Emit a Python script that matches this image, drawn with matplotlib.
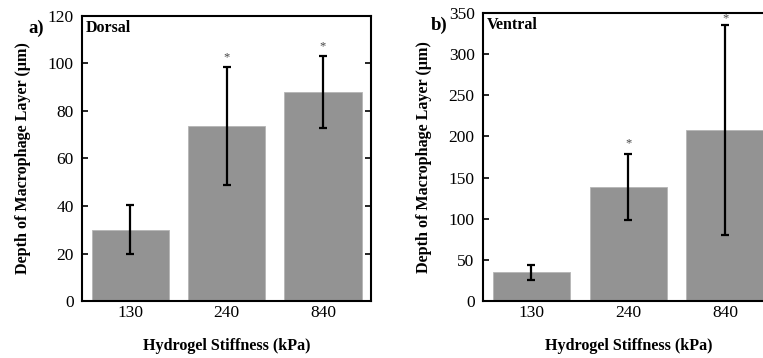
import numpy as np
import matplotlib.pyplot as plt

plt.rcParams['font.family'] = ['Liberation Serif', 'DejaVu Serif']

stiffness = ['130', '240', '840']
dorsal = [30, 73.7, 88]
dorsal_err = [10.3, 24.8, 15]
ventral = [35, 139, 208]
ventral_err = [9, 40, 127.5]
signif = ['', '*', '*']

fig = plt.figure(figsize=(7.63, 3.58), dpi=100)
ax1 = fig.add_axes([0.1075, 0.159, 0.379, 0.797])
ax2 = fig.add_axes([0.633, 0.159, 0.381, 0.805])


def panel(ax, vals, errs, ymax, step, tag, name, tag_xy):
    x = np.arange(len(vals))
    ax.bar(x, vals, width=0.8, color='#939393', edgecolor='#b5b5b5', linewidth=0.6)
    ax.errorbar(x, vals, yerr=errs, fmt='none', ecolor='black', elinewidth=1.6,
                capsize=3, capthick=1.6)
    for i, (v, e) in enumerate(zip(vals, errs)):
        if signif[i]:
            # keep the star inside the frame when the bar nearly hits the top
            y = min(v + e + ymax * 0.035, ymax * 0.98)
            ax.text(i, y, signif[i], ha='center', va='center',
                    fontsize=9, color='#444444')
    ax.set_xlim(-0.5, 2.5)
    ax.set_ylim(0, ymax)
    ax.set_yticks(np.arange(0, ymax + 1, step))
    ax.set_xticks(x)
    ax.set_xticklabels(stiffness)
    ax.tick_params(axis='x', length=0, labelsize=12.5, pad=3)
    ax.tick_params(axis='y', direction='in', right=True, length=4, width=1.2,
                   labelsize=12.5, pad=6)
    for s in ax.spines.values():
        s.set_linewidth(1.5)
    ax.set_xlabel('Hydrogel Stiffness (kPa)', fontsize=11.6, fontweight='bold',
                  labelpad=12)
    ax.set_ylabel('Depth of Macrophage Layer (\u03bcm)', fontsize=11.6,
                  fontweight='bold', labelpad=12)
    ax.text(0.012, 0.985, name, transform=ax.transAxes, ha='left', va='top',
            fontsize=11.5, fontweight='bold')
    fig.text(tag_xy[0], tag_xy[1], tag, ha='left', va='center', fontsize=13.5,
             fontweight='bold')


panel(ax1, dorsal, dorsal_err, 120, 20, 'a)', 'Dorsal', (0.037, 0.92))
panel(ax2, ventral, ventral_err, 350, 50, 'b)', 'Ventral', (0.565, 0.93))

fig.savefig('out.png', dpi=100)
